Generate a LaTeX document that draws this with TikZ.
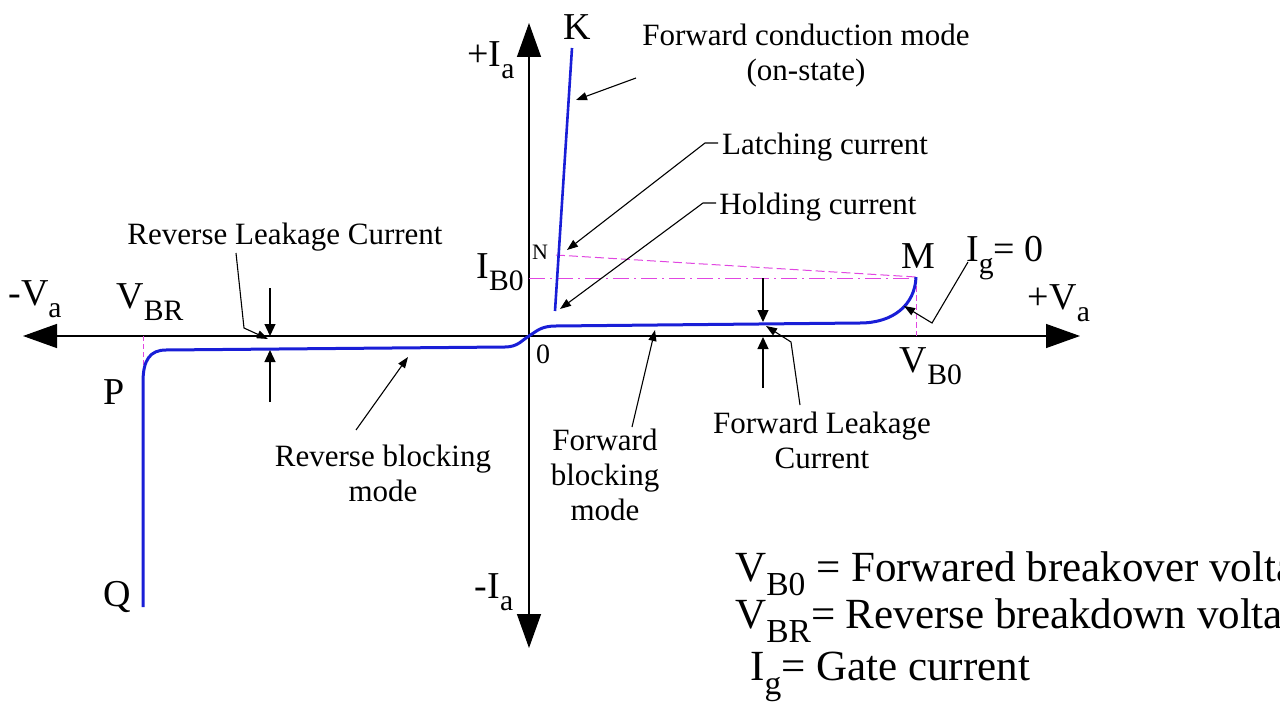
\documentclass[tikz,border=0pt]{standalone}
\usepackage{fontspec}
\usepackage{graphicx}
\setmainfont{Liberation Serif}
\usetikzlibrary{arrows.meta}
% lowered, reduced subscript as used in the labels
\newcommand\dn[1]{\raisebox{-0.33em}{\scalebox{0.78}{#1}}}
\definecolor{curveblue}{RGB}{25,30,215}
\definecolor{guidepink}{RGB}{225,70,225}
\begin{document}
\begin{tikzpicture}[x=1pt,y=-1pt,
  axisline/.style={line width=1.4pt,{Triangle[length=34pt,width=24pt]}-{Triangle[length=34pt,width=24pt]}},
  curve/.style={curveblue,line width=3pt,line join=round},
  guide/.style={guidepink,line width=1pt},
  lead/.style={line width=1.1pt,-{Triangle[length=11pt,width=8pt]}},
  gap/.style={line width=1.3pt,-{Triangle[length=12pt,width=11pt]}},
  note/.style={font=\fontsize{31}{35}\selectfont,align=center,inner sep=0pt},
  lbl/.style={font=\fontsize{38}{40}\selectfont,inner sep=0pt},
  legend/.style={font=\fontsize{43}{48}\selectfont,anchor=base west,inner sep=0pt}]
\useasboundingbox (0,0) rectangle (1280,706);
\clip (0,0) rectangle (1280,706);

% axes
\coordinate (xl) at (23,336);
\coordinate (xr) at (1080,336);
\coordinate (yt) at (529,23);
\coordinate (yb) at (529,648);
\draw[axisline] (xl) -- (xr);
\draw[axisline] (yb) -- (yt);

% key points of the characteristic
\coordinate (Qp) at (143,607);
\coordinate (Pp) at (143,382);
\coordinate (Mp) at (916,277);
\coordinate (Np) at (556,255);
\coordinate (Kp) at (572,48);
\coordinate (Hp) at (555,311);
\coordinate (Ib) at (529,278);
\coordinate (Mb) at (916,278);
\coordinate (Vb) at (916,336);
\coordinate (Vr) at (143,336);
\coordinate (Vr2) at (143,374);

% guide lines
\draw[guide,dash pattern=on 9pt off 4pt] (Np) -- (Mp);
\draw[guide,dash pattern=on 16pt off 5pt on 2pt off 5pt] (Ib) -- (Mb);
\draw[guide,dash pattern=on 6pt off 3pt] (Mp) -- (Vb);
\draw[guide,dash pattern=on 5pt off 3pt] (Vr) -- (Vr2);

% characteristic curve
\draw[curve] (Qp) -- (Pp) .. controls (143,360) and (150,350) .. (166,350)
  -- (505,347) .. controls (518,347) and (522,340) .. (529,336)
  .. controls (537,331) and (541,326) .. (556,326)
  -- (860,323) .. controls (893,323) and (915,305) .. (Mp);
\draw[curve,line width=2.6pt] (Hp) -- (Kp);

% point and axis labels
\node[lbl] (K) at (577,27) {K};
\node[lbl] (M) at (918,256) {M};
\node[lbl] (P) at (114,392) {P};
\node[lbl] (Q) at (117,597) {Q};
\node[font=\fontsize{22}{24}\selectfont,inner sep=0pt] (N) at (540,252) {N};
\node[font=\fontsize{28}{30}\selectfont,inner sep=0pt] (zero) at (543,354) {0};
\node[lbl] (pIa) at (491,60) {+I\dn{a}};
\node[lbl] (mIa) at (494,592) {-I\dn{a}};
\node[lbl] (mVa) at (35,299) {-V\dn{a}};
\node[lbl] (pVa) at (1059,303) {+V\dn{a}};
\node[lbl] (IB0) at (500,272) {I\dn{B0}};
\node[lbl] (VB0) at (931,366) {V\dn{B0}};
\node[lbl] (VBR) at (150,302) {V\dn{BR}};
\node[lbl] (Ig) at (1005,258) {I\dn{g}= 0};

% annotations
\node[note] (fcm) at (806,56) {Forward conduction mode\\(on-state)};
\node[note] (lat) at (825,147) {Latching current};
\node[note] (hol) at (818,207) {Holding current};
\node[note] (rlc) at (285,237) {Reverse Leakage Current};
\node[note] (rbm) at (383,473) {Reverse blocking\\mode};
\node[note] (fbm) at (605,475) {Forward\\blocking\\mode};
\node[note] (flc) at (822,440) {Forward Leakage\\Current};

% leaders
\coordinate (a1) at (636,78);   \coordinate (t1) at (576,100);
\draw[lead] (a1) -- (t1);
\coordinate (a2) at (718,143);  \coordinate (b2) at (705,143); \coordinate (t2) at (567,250);
\draw[lead] (a2) -- (b2) -- (t2);
\coordinate (a3) at (716,203);  \coordinate (b3) at (703,203); \coordinate (t3) at (560,309);
\draw[lead] (a3) -- (b3) -- (t3);
\coordinate (a4) at (236,253);  \coordinate (b4) at (244,328); \coordinate (t4) at (268,339);
\draw[lead] (a4) -- (b4) -- (t4);
\coordinate (a5) at (356,430);  \coordinate (t5) at (408,357);
\draw[lead] (a5) -- (t5);
\coordinate (a6) at (632,427);  \coordinate (t6) at (655,330);
\draw[lead] (a6) -- (t6);
\coordinate (a7) at (800,405);  \coordinate (b7) at (791,342); \coordinate (t7) at (766,326);
\draw[lead] (a7) -- (b7) -- (t7);
\coordinate (a8) at (968,262);  \coordinate (b8) at (932,323); \coordinate (t8) at (904,306);
\draw[lead] (a8) -- (b8) -- (t8);

% leakage gap markers
\coordinate (r1) at (270,288); \coordinate (r1t) at (270,336);
\coordinate (r2) at (270,402); \coordinate (r2t) at (270,350);
\draw[gap] (r1) -- (r1t);
\draw[gap] (r2) -- (r2t);
\coordinate (f1) at (763,278); \coordinate (f1t) at (763,322);
\coordinate (f2) at (763,388); \coordinate (f2t) at (763,337);
\draw[gap] (f1) -- (f1t);
\draw[gap] (f2) -- (f2t);

% legend
\node[legend] (L1) at (735,581) {V\dn{B0} = Forwared breakover voltage};
\node[legend] (L2) at (735,628) {V\dn{BR}= Reverse breakdown voltage};
\node[legend] (L3) at (750,680) {I\dn{g}= Gate current};
\end{tikzpicture}
\end{document}
